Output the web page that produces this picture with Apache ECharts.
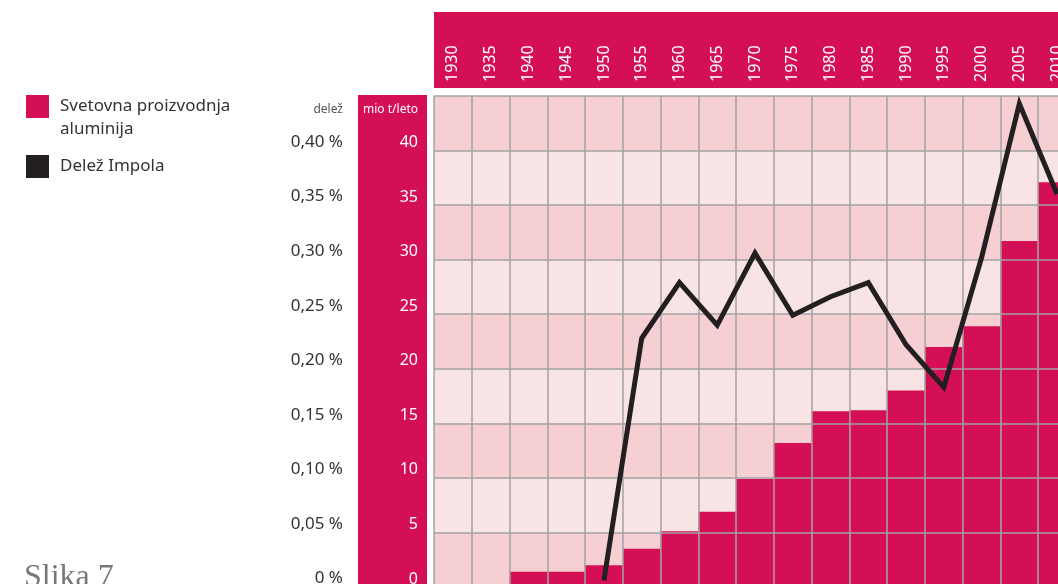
<!DOCTYPE html>
<html>
<head>
<meta charset="utf-8">
<script src="https://cdn.jsdelivr.net/npm/echarts@6/dist/echarts.min.js"></script>
<style>
  html, body { margin: 0; padding: 0; background: #fff; }
  #chart { width: 1058px; height: 584px; }
</style>
</head>
<body>
<div id="chart"></div>
<script>
  // leta (kategorije)
  var years = ['1930', '1935', '1940', '1945', '1950', '1955', '1960', '1965', '1970',
    '1975', '1980', '1985', '1990', '1995', '2000', '2005', '2010']
  // svetovna proizvodnja aluminija, mio t/leto
  var production = [0.2, 0.2, 1.4, 1.4, 2.0, 3.5, 5.1, 6.9, 9.9,
    13.2, 16.1, 16.2, 18.0, 22.0, 23.9, 31.7, 37.1]
  // delez Impola, %
  var share = [null, null, null, null, 0.006, 0.228, 0.279, 0.240, 0.306,
    0.249, 0.266, 0.279, 0.222, 0.183, 0.302, 0.443, 0.36]

  var crimson = '#d40f55'
  var gridGray = '#a2a2a2'
  var font = 'Noto Sans'

  var chart = echarts.init(document.getElementById('chart'))

  var option = {
    animation: false,
    textStyle: { fontFamily: font },
    // graf se nadaljuje cez desni in spodnji rob
    grid: { left: 434, top: 96, width: 642, height: 491, outerBoundsMode: 'none', containLabel: false },
    legend: [
      {
        left: 26, top: 72, orient: 'vertical', padding: 0,
        itemWidth: 23, itemHeight: 23, icon: 'rect',
        data: ['Svetovna proizvodnja aluminija'],
        // prazna vrstica zgoraj, da je prva vrstica poravnana s kvadratkom
        formatter: function () { return '\nSvetovna proizvodnja\naluminija' },
        textStyle: { fontSize: 17, color: '#333', lineHeight: 23, padding: [0, 0, 0, 6] }
      },
      {
        left: 26, top: 155, orient: 'vertical', padding: 0,
        itemWidth: 23, itemHeight: 23, icon: 'rect',
        data: ['Delež Impola'],
        textStyle: { fontSize: 17, color: '#333', padding: [0, 0, 0, 6] }
      }
    ],
    graphic: [
      // pas za letnice
      { type: 'rect', shape: { x: 434, y: 12, width: 700, height: 76 }, style: { fill: crimson }, z: 0 },
      // stolpec za mio t/leto
      { type: 'rect', shape: { x: 358, y: 95, width: 69, height: 500 }, style: { fill: crimson }, z: 0 },
      {
        type: 'text', left: 24, top: 562,
        style: { text: 'Slika 7', font: '300 32px "Liberation Serif"', fill: '#777' }
      }
    ],
    xAxis: {
      type: 'category',
      position: 'top',
      data: years,
      z: 3,
      boundaryGap: true,
      axisLine: { show: false },
      axisTick: { show: false },
      axisLabel: { rotate: 90, margin: 14, color: '#fff', fontSize: 16, interval: 0 },
      splitLine: { show: true, interval: 0, lineStyle: { color: gridGray, width: 1.5 } }
    },
    yAxis: [
      {
        type: 'value',
        position: 'left',
        min: 0, max: 45, interval: 5,
        name: 'mio t/leto',
        nameLocation: 'end',
        nameGap: -14,
        nameTextStyle: { color: '#fff', fontSize: 12, align: 'right', verticalAlign: 'middle', padding: [0, 16, 0, 0] },
        axisLine: { show: false },
        axisTick: { show: false },
        axisLabel: {
          margin: 16, color: '#fff', fontSize: 16, verticalAlign: 'bottom',
          formatter: function (v) { return v === 45 ? '' : String(v) }
        },
        splitLine: { show: false },
        splitArea: { show: true, areaStyle: { color: ['#f5cfd1', '#f9e4e5'] } }
      },
      {
        type: 'value',
        position: 'left',
        min: 0, max: 0.45, interval: 0.05,
        z: 3,
        name: 'delež',
        nameLocation: 'end',
        nameGap: -14,
        nameTextStyle: { color: '#555', fontSize: 12, align: 'right', verticalAlign: 'middle', padding: [0, 91, 0, 0] },
        axisLine: { show: false },
        axisTick: { show: false },
        axisLabel: {
          margin: 91, color: '#333', fontSize: 17, verticalAlign: 'bottom',
          formatter: function (v) {
            if (v > 0.449) return ''
            if (v === 0) return '0 %'
            return v.toFixed(2).replace('.', ',') + ' %'
          }
        },
        splitLine: { show: true, lineStyle: { color: gridGray, width: 1.5 } }
      }
    ],
    series: [
      {
        name: 'Svetovna proizvodnja aluminija',
        type: 'bar',
        yAxisIndex: 0,
        data: production,
        barCategoryGap: '0%',
        color: crimson,
        itemStyle: { color: crimson },
        z: 2
      },
      {
        name: 'Delež Impola',
        type: 'line',
        yAxisIndex: 1,
        data: share,
        symbol: 'none',
        color: '#231f20',
        lineStyle: { color: '#231f20', width: 5, join: 'miter' },
        z: 5
      }
    ]
  }

  chart.setOption(option)
</script>
</body>
</html>
